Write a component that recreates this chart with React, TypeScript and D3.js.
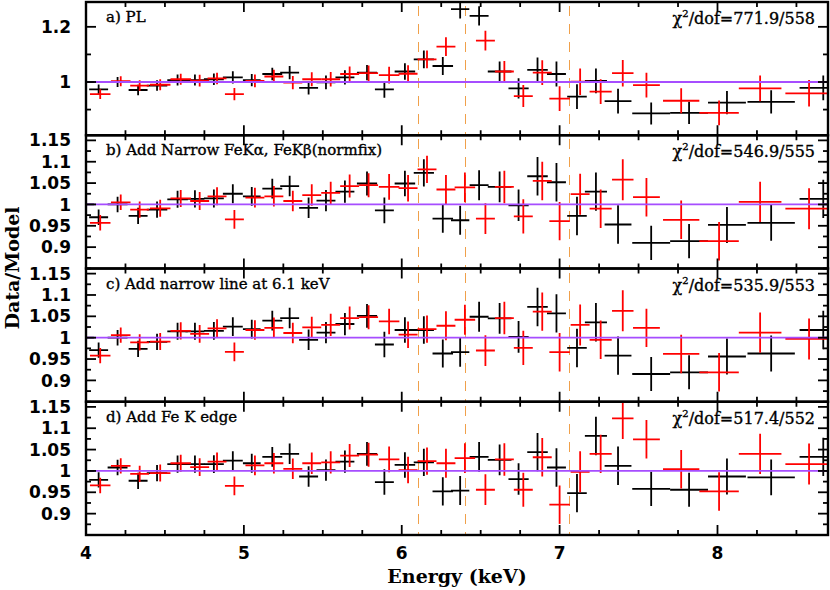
import React from "react";
import * as d3 from "d3";

// bins of the two spectra (keV): centre, half width, 1-sigma ratio error
const blackE = [4.08, 4.2, 4.33, 4.45, 4.58, 4.69, 4.81, 4.93, 5.05, 5.18, 5.29, 5.41, 5.52, 5.64, 5.78, 5.89, 6.02, 6.14, 6.26, 6.37, 6.49, 6.62, 6.74, 6.86, 6.98, 7.11, 7.23, 7.37, 7.58, 7.82, 8.06, 8.34, 8.67];
const blackHW = [0.06, 0.063, 0.06, 0.065, 0.065, 0.06, 0.063, 0.063, 0.056, 0.063, 0.06, 0.06, 0.06, 0.06, 0.064, 0.06, 0.065, 0.064, 0.065, 0.058, 0.06, 0.075, 0.064, 0.065, 0.06, 0.062, 0.07, 0.085, 0.12, 0.12, 0.12, 0.15, 0.15];
const blackErr = [0.018, 0.018, 0.019, 0.019, 0.02, 0.02, 0.021, 0.022, 0.022, 0.023, 0.024, 0.024, 0.025, 0.026, 0.028, 0.03, 0.03, 0.032, 0.033, 0.034, 0.035, 0.036, 0.037, 0.045, 0.045, 0.045, 0.045, 0.045, 0.04, 0.04, 0.042, 0.042, 0.045];

const redE = [4.09, 4.22, 4.34, 4.47, 4.6, 4.72, 4.83, 4.94, 5.07, 5.19, 5.31, 5.43, 5.55, 5.67, 5.79, 5.92, 6.04, 6.16, 6.28, 6.4, 6.53, 6.65, 6.77, 6.89, 7.0, 7.13, 7.26, 7.4, 7.55, 7.77, 8.01, 8.27, 8.58];
const redHW = [0.065, 0.062, 0.06, 0.065, 0.065, 0.06, 0.06, 0.06, 0.06, 0.06, 0.06, 0.06, 0.06, 0.06, 0.06, 0.065, 0.06, 0.06, 0.06, 0.065, 0.06, 0.06, 0.06, 0.06, 0.065, 0.06, 0.07, 0.068, 0.085, 0.115, 0.125, 0.135, 0.15];
const redErr = [0.018, 0.018, 0.019, 0.02, 0.02, 0.021, 0.021, 0.022, 0.023, 0.024, 0.024, 0.025, 0.026, 0.027, 0.028, 0.03, 0.031, 0.032, 0.034, 0.035, 0.036, 0.038, 0.04, 0.045, 0.045, 0.048, 0.045, 0.048, 0.045, 0.045, 0.045, 0.047, 0.048];

// data/model ratios, one array per panel
const blackA = [0.973, 1.0, 0.971, 0.987, 1.007, 1.007, 1.01, 1.017, 1.007, 1.029, 1.034, 0.979, 0.999, 1.017, 1.034, 0.973, 1.038, 1.082, 1.058, 1.264, 1.24, 1.038, 0.977, 1.044, 1.029, 0.947, 1.004, 0.931, 0.886, 0.888, 0.925, 0.928, 0.979];
const redA = [0.956, 1.003, 0.987, 0.99, 1.01, 1.005, 1.013, 0.956, 1.004, 1.02, 0.998, 1.01, 1.01, 1.029, 1.032, 1.025, 1.03, 1.082, 1.128, 1.33, 1.15, 1.038, 0.949, 1.034, 0.94, 1.001, 0.965, 1.032, 0.989, 0.932, 0.888, 0.977, 0.959];

const blackB = [0.97, 1.0, 0.973, 0.988, 1.012, 1.013, 1.014, 1.025, 1.019, 1.037, 1.043, 0.992, 1.009, 1.03, 1.049, 0.986, 1.049, 1.074, 0.967, 0.963, 1.045, 1.041, 0.998, 1.066, 1.052, 0.973, 1.03, 0.953, 0.91, 0.914, 0.952, 0.957, 1.013];
const redB = [0.957, 1.005, 0.988, 0.991, 1.014, 1.008, 1.019, 0.965, 1.016, 1.019, 1.008, 1.022, 1.027, 1.043, 1.045, 1.041, 1.038, 1.082, 1.035, 1.04, 0.967, 1.041, 0.972, 1.055, 0.961, 1.024, 0.99, 1.058, 1.017, 0.964, 0.914, 1.006, 0.99];

const blackC = [0.971, 1.0, 0.974, 0.99, 1.015, 1.015, 1.016, 1.026, 1.02, 1.04, 1.046, 0.995, 1.012, 1.032, 1.051, 0.984, 1.018, 1.018, 0.963, 0.966, 1.049, 1.045, 1.002, 1.072, 1.057, 0.976, 1.036, 0.958, 0.915, 0.919, 0.956, 0.963, 1.018];
const redC = [0.958, 1.006, 0.989, 0.991, 1.016, 1.009, 1.022, 0.967, 1.018, 1.023, 1.011, 1.024, 1.03, 1.046, 1.048, 1.038, 1.007, 1.02, 1.028, 1.042, 0.97, 1.046, 0.976, 1.061, 0.966, 1.03, 0.995, 1.063, 1.023, 0.962, 0.919, 1.012, 0.997];

const blackD = [0.979, 1.008, 0.977, 0.995, 1.016, 1.016, 1.016, 1.024, 1.018, 1.033, 1.04, 0.987, 1.002, 1.022, 1.04, 0.974, 1.014, 1.02, 0.952, 0.954, 1.033, 1.026, 0.981, 1.044, 1.008, 0.948, 1.082, 1.012, 0.958, 0.956, 0.987, 0.985, 1.033];
const redD = [0.966, 1.012, 0.993, 0.995, 1.018, 1.009, 1.022, 0.965, 1.013, 1.018, 1.005, 1.018, 1.02, 1.036, 1.038, 1.027, 1.002, 1.023, 1.018, 1.03, 0.956, 1.027, 0.956, 1.032, 0.921, 0.998, 1.04, 1.123, 1.074, 1.004, 0.952, 1.04, 1.016];

const panelNames = ["a) PL", "b) Add Narrow FeK\u03b1, FeK\u03b2(normfix)", "c) Add narrow line at 6.1 keV", "d) Add Fe K edge"];
const chiValues = ["771.9/558", "546.9/555", "535.9/553", "517.4/552"];
const lineEnergies = [6.1, 6.4, 7.06];

const xTicks = [4, 5, 6, 7, 8];
const yTicksA = [1.2, 1];
const yTicksB = [1.15, 1.1, 1.05, 1, 0.95, 0.9];

const W = 830;
const H = 590;
const left = 86;
const right = 828;
const top = 2;
const bottom = 535;
const panelH = (bottom - top) / 4;

const x = d3.scaleLinear().domain([4, 8.7]).range([left, right]);

const panels = [
  { black: blackA, red: redA, domain: [0.807, 1.29], major: yTicksA, step: 0.1 },
  { black: blackB, red: redB, domain: [0.85, 1.162], major: yTicksB, step: 0.025 },
  { black: blackC, red: redC, domain: [0.85, 1.162], major: yTicksB, step: 0.025 },
  { black: blackD, red: redD, domain: [0.85, 1.162], major: yTicksB, step: 0.025 },
];

const numFont = "'DejaVu Sans', sans-serif";
const serif = "'DejaVu Serif', serif";

function Crosses({ E, HW, R, Err, y, color }) {
  return (
    <g stroke={color} strokeWidth={1.8}>
      {E.map((e, i) => (
        <g key={i}>
          <line x1={x(e - HW[i])} x2={x(e + HW[i])} y1={y(R[i])} y2={y(R[i])} />
          <line x1={x(e)} x2={x(e)} y1={y(R[i] - Err[i])} y2={y(R[i] + Err[i])} />
        </g>
      ))}
    </g>
  );
}

function Panel({ p, i }) {
  const y0 = top + i * panelH;
  const y1 = y0 + panelH;
  const y = d3.scaleLinear().domain(p.domain).range([y1, y0]);
  const minorX = d3.range(4, 8.7001, 0.25).filter((v) => Math.abs(v - Math.round(v)) > 0.01);
  const minorY = d3
    .range(Math.ceil(p.domain[0] / p.step) * p.step, p.domain[1], p.step)
    .filter((v) => !p.major.some((m) => Math.abs(m - v) < 1e-6));
  const clip = `clip${i}`;
  return (
    <g>
      <clipPath id={clip}>
        <rect x={left} y={y0} width={right - left} height={panelH} />
      </clipPath>
      <g clipPath={`url(#${clip})`}>
        {lineEnergies.map((e) => (
          <line
            key={e}
            x1={Math.round(x(e)) + 0.5}
            x2={Math.round(x(e)) + 0.5}
            y1={y0}
            y2={y1}
            stroke="#f0a04a"
            strokeWidth={1}
            strokeDasharray="10,8"
            strokeDashoffset={-4}
            shapeRendering="crispEdges"
          />
        ))}
        <Crosses E={blackE} HW={blackHW} R={p.black} Err={blackErr} y={y} color="#000" />
        <Crosses E={redE} HW={redHW} R={p.red} Err={redErr} y={y} color="#ff0000" />
        <line x1={left} x2={right} y1={y(1)} y2={y(1)} stroke="#a64dff" strokeWidth={1.8} />
        <line x1={left} x2={x(4.05)} y1={y(1)} y2={y(1)} stroke="#4b1a7a" strokeWidth={1.8} />
        <line x1={x(8.67)} x2={right} y1={y(1)} y2={y(1)} stroke="#4b1a7a" strokeWidth={1.8} />
      </g>
      <g stroke="#000" strokeWidth={1.8}>
        {xTicks.map((t) => (
          <g key={t}>
            <line x1={x(t)} x2={x(t)} y1={y0} y2={y0 + 10} />
            <line x1={x(t)} x2={x(t)} y1={y1} y2={y1 - 10} />
          </g>
        ))}
        {minorX.map((t) => (
          <g key={t}>
            <line x1={x(t)} x2={x(t)} y1={y0} y2={y0 + 5} />
            <line x1={x(t)} x2={x(t)} y1={y1} y2={y1 - 5} />
          </g>
        ))}
        {p.major.map((t) => (
          <g key={t}>
            <line x1={left} x2={left + 10} y1={y(t)} y2={y(t)} />
            <line x1={right} x2={right - 10} y1={y(t)} y2={y(t)} />
          </g>
        ))}
        {minorY.map((t) => (
          <g key={t}>
            <line x1={left} x2={left + 5} y1={y(t)} y2={y(t)} />
            <line x1={right} x2={right - 5} y1={y(t)} y2={y(t)} />
          </g>
        ))}
      </g>
      <rect x={left} y={y0} width={right - left} height={panelH} fill="none" stroke="#000" strokeWidth={2.4} />
      {p.major.map((t) => (
        <text key={t} x={71} y={y(t)} dy="0.36em" textAnchor="end" fontFamily={numFont} fontWeight="bold" fontSize={17}>
          {String(t)}
        </text>
      ))}
      <text x={106} y={y0 + 20} fontFamily={serif} fontSize={15} stroke="#000" strokeWidth={0.35}>
        {panelNames[i]}
      </text>
      <text x={815} y={y0 + 22} textAnchor="end" fontFamily={serif} fontSize={16} stroke="#000" strokeWidth={0.35}>
        {"\u03c7"}
        <tspan fontSize={10} dy={-7}>2</tspan>
        <tspan dy={7}>{"/dof=" + chiValues[i]}</tspan>
      </text>
    </g>
  );
}

export default function App() {
  return (
    <svg width={W} height={H} style={{ position: "absolute", left: 0, top: 0, background: "#fff" }}>
      <rect width={W} height={H} fill="#fff" />
      {panels.map((p, i) => (
        <Panel key={i} p={p} i={i} />
      ))}
      {xTicks.map((t) => (
        <text key={t} x={x(t)} y={559} textAnchor="middle" fontFamily={numFont} fontWeight="bold" fontSize={17}>
          {t}
        </text>
      ))}
      <text x={(left + right) / 2} y={583} textAnchor="middle" fontFamily={serif} fontWeight="bold" fontSize={19}>
        Energy (keV)
      </text>
      <text transform="translate(19,268) rotate(-90)" textAnchor="middle" fontFamily={serif} fontWeight="bold" fontSize={19}>
        Data/Model
      </text>
    </svg>
  );
}
